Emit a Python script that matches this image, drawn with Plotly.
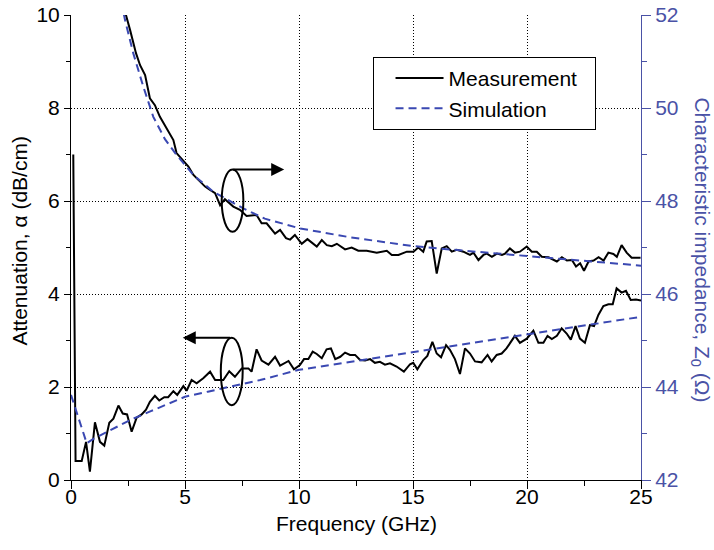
import plotly.graph_objects as go

# ---------------- data ----------------
# Measured attenuation (dB/cm) vs frequency (GHz)
meas_att_f = [0.10, 0.20, 0.47, 0.66, 0.83, 1.05, 1.27, 1.46, 1.68, 1.86, 2.08, 2.27, 2.46, 2.66, 2.88,
              3.10, 3.29, 3.46, 3.68, 3.87, 4.09, 4.26, 4.49, 4.66, 4.93, 5.07, 5.29, 5.51, 5.80, 6.10,
              6.32, 6.68, 6.94, 7.19, 7.49, 7.78, 7.92, 8.14, 8.36, 8.66, 8.95, 9.17, 9.54, 9.78, 10.04,
              10.22, 10.41, 10.60, 10.78, 11.00, 11.21, 11.40, 11.59, 11.81, 12.02, 12.24, 12.46, 12.68,
              12.90, 13.12, 13.33, 13.55, 13.77, 13.99, 14.28, 14.60, 14.87, 15.01, 15.19, 15.45, 15.63,
              15.85, 16.04, 16.23, 16.45, 16.62, 16.84, 17.06, 17.28, 17.50, 17.72, 18.01, 18.27, 18.45,
              18.67, 18.89, 19.10, 19.25, 19.47, 19.69, 19.99, 20.28, 20.50, 20.72, 20.90, 21.09, 21.31,
              21.52, 21.74, 21.92, 22.13, 22.32, 22.54, 22.76, 22.94, 23.13, 23.35, 23.57, 23.76, 23.93,
              24.15, 24.34, 24.55, 24.78, 25.00]
meas_att = [7.00, 0.41, 0.41, 0.82, 0.18, 1.24, 0.82, 0.74, 1.23, 1.32, 1.60, 1.43, 1.41, 1.04, 1.34,
            1.41, 1.51, 1.68, 1.81, 1.71, 1.78, 1.78, 1.91, 1.83, 2.02, 1.92, 2.15, 2.08, 2.19, 2.33,
            2.15, 2.15, 2.34, 2.22, 2.40, 2.40, 2.33, 2.81, 2.57, 2.48, 2.65, 2.46, 2.56, 2.38, 2.47,
            2.60, 2.60, 2.76, 2.71, 2.62, 2.81, 2.83, 2.60, 2.65, 2.74, 2.69, 2.69, 2.58,
            2.57, 2.60, 2.52, 2.54, 2.48, 2.51, 2.44, 2.33, 2.49, 2.52, 2.38, 2.58, 2.67,
            2.97, 2.72, 2.64, 2.90, 2.80, 2.60, 2.28, 2.83, 2.72, 2.55, 2.53, 2.69, 2.55,
            2.69, 2.72, 2.83, 2.94, 3.10, 2.95, 3.04, 3.21, 2.95, 2.95, 3.10, 3.03, 3.10,
            3.26, 3.15, 3.02, 3.31, 3.04, 2.95, 3.33, 3.31, 3.55, 3.74, 3.78, 3.78, 4.12,
            4.03, 4.07, 3.87, 3.88, 3.86]

# Simulated attenuation (dB/cm)
sim_att_f = [0.0, 0.69, 1.0, 1.5, 2.0, 2.6, 3.5, 4.0, 5.0, 6.0, 7.0, 8.3, 10.0, 12.5, 15.0, 17.5, 20.0, 22.5, 25.0]
sim_att = [1.83, 0.79, 0.89, 1.01, 1.13, 1.29, 1.48, 1.58, 1.79, 1.90, 2.01, 2.15, 2.37, 2.56, 2.74, 2.93, 3.12, 3.31, 3.51]

# Measured characteristic impedance (ohm)
meas_z_f = [2.30, 2.41, 2.59, 2.85, 3.03, 3.25, 3.46, 3.68, 3.90, 4.20, 4.49, 4.63, 4.93, 5.15, 5.37,
            5.66, 5.88, 6.10, 6.32, 6.54, 6.75, 7.12, 7.41, 7.70, 8.14, 8.36, 8.58, 8.95, 9.17, 9.43,
            9.61, 9.82, 10.12, 10.37, 10.78, 11.00, 11.22, 11.44, 11.66, 12.02, 12.31, 12.60, 12.97,
            13.41, 13.85, 14.07, 14.36, 14.73, 15.02, 15.23, 15.45, 15.60, 15.82, 16.04, 16.26, 16.48,
            16.70, 16.92, 17.21, 17.50, 17.65, 17.87, 18.09, 18.24, 18.46, 18.68, 18.90, 19.04, 19.25,
            19.47, 19.69, 19.99, 20.21, 20.43, 20.65, 20.94, 21.16, 21.31, 21.53, 21.75, 21.97, 22.15,
            22.33, 22.50, 22.70, 22.92, 23.14, 23.36, 23.57, 23.79, 23.94, 24.15, 24.37, 24.59, 24.98]
meas_z = [52.30, 52.00, 51.68, 51.18, 50.92, 50.71, 50.21, 50.06, 49.81, 49.56, 49.31, 49.03, 48.85, 48.74, 48.56,
          48.42, 48.31, 48.24, 48.17, 47.91, 48.04, 47.88, 47.81, 47.68, 47.70, 47.52, 47.52, 47.30, 47.38, 47.20,
          47.17, 47.27, 47.08, 47.18, 47.02, 47.16, 47.05, 47.03, 47.08, 46.96, 47.00, 46.93, 46.93,
          46.89, 46.93, 46.84, 46.84, 46.91, 46.91, 47.00, 46.91, 47.13, 47.14, 46.44, 46.98, 47.03,
          46.91, 46.95, 46.91, 46.84, 46.89, 46.73, 46.84, 46.87, 46.80, 46.87, 46.84, 46.87, 46.98,
          46.89, 46.91, 47.02, 46.91, 46.91, 46.80, 46.79, 46.73, 46.70, 46.79, 46.72, 46.73, 46.59,
          46.66, 46.50, 46.70, 46.72, 46.79, 46.72, 46.89, 46.86, 46.80, 47.05, 46.89, 46.78, 46.78]

# Simulated characteristic impedance (ohm)
sim_z_f = [2.20, 2.37, 2.73, 3.17, 3.61, 4.12, 4.63, 5.37, 6.24, 7.56, 8.50, 10.04, 12.24, 15.0, 17.5, 20.0, 22.5, 25.0]
sim_z = [52.30, 51.89, 51.18, 50.46, 49.81, 49.33, 48.99, 48.56, 48.20, 47.84, 47.62, 47.41, 47.22, 47.03, 46.92, 46.82, 46.71, 46.61]

x_ticks = [0, 5, 10, 15, 20, 25]
y_ticks = [0, 2, 4, 6, 8, 10]
y2_ticks = [42, 44, 46, 48, 50, 52]

BLUE_AX = "#4a52a6"
BLUE_LN = "#3a48b2"
FONT = "Liberation Sans, Arial, Helvetica, sans-serif"
NB = "\u00a0"

fig = go.Figure()
fig.add_trace(go.Scatter(x=meas_att_f, y=meas_att, mode="lines", name="Measurement" + NB * 2,
                         line=dict(color="black", width=2), yaxis="y"))
fig.add_trace(go.Scatter(x=sim_att_f, y=sim_att, mode="lines", name="Simulation",
                         line=dict(color=BLUE_LN, width=2, dash="8px,5px"), yaxis="y"))
fig.add_trace(go.Scatter(x=meas_z_f, y=meas_z, mode="lines", name="Measurement", showlegend=False,
                         line=dict(color="black", width=2), yaxis="y2"))
fig.add_trace(go.Scatter(x=sim_z_f, y=sim_z, mode="lines", name="Simulation", showlegend=False,
                         line=dict(color=BLUE_LN, width=2, dash="8px,5px"), yaxis="y2"))

# ellipses + arrows (in data coordinates of the left axis)
fig.add_shape(type="circle", xref="x", yref="y", x0=6.61, x1=7.56, y0=5.34, y1=6.68,
              line=dict(color="black", width=2))
fig.add_shape(type="circle", xref="x", yref="y", x0=6.57, x1=7.53, y0=1.61, y1=3.06,
              line=dict(color="black", width=2))
fig.add_annotation(x=9.35, y=6.68, ax=7.05, ay=6.68, xref="x", yref="y", axref="x", ayref="y",
                   text="", showarrow=True, arrowhead=2, arrowsize=1.3, arrowwidth=2, arrowcolor="black")
fig.add_annotation(x=4.9, y=3.06, ax=7.05, ay=3.06, xref="x", yref="y", axref="x", ayref="y",
                   text="", showarrow=True, arrowhead=2, arrowsize=1.3, arrowwidth=2, arrowcolor="black")

# axis titles
fig.add_annotation(text="Attenuation, α (dB/cm)", xref="paper", yref="paper", x=-0.0895, y=0.515,
                   xanchor="center", yanchor="middle",
                   textangle=-90, showarrow=False, font=dict(size=21, color="black", family=FONT))
fig.add_annotation(text="Characteristic impedance, Z<sub>0</sub> (Ω)", xref="paper", yref="paper",
                   x=1.106, y=0.495, xanchor="center", yanchor="middle", textangle=90, showarrow=False,
                   font=dict(size=21, color=BLUE_AX, family=FONT))
fig.add_annotation(text="Frequency (GHz)", xref="paper", yref="paper", x=0.5, y=-0.093,
                   xanchor="center", yanchor="middle", showarrow=False,
                   font=dict(size=21, color="black", family=FONT))

fig.update_layout(
    width=714, height=550,
    margin=dict(l=71, r=73, t=15, b=70, autoexpand=False),
    paper_bgcolor="white", plot_bgcolor="white",
    font=dict(family=FONT, size=21, color="black"),
    showlegend=True,
    legend=dict(x=0.529, y=0.91, xanchor="left", yanchor="top", bgcolor="white",
                bordercolor="black", borderwidth=1, font=dict(size=21), itemwidth=48,
                indentation=17, tracegroupgap=0),
    xaxis=dict(range=[0, 25], tickvals=x_ticks, ticks="outside", ticklen=8, tickwidth=1,
               tickcolor="black", showline=True, linecolor="black", linewidth=1, automargin=False,
               ticklabelstandoff=-10,
               showgrid=True, gridcolor="black", gridwidth=1, griddash="1px,2px", zeroline=False,
               minor=dict(dtick=2.5, tick0=0, ticks="outside", ticklen=5, tickcolor="black", showgrid=False)),
    xaxis2=dict(range=[0, 25], overlaying="x", side="top", tickvals=x_ticks, ticks="inside", ticklen=8,
                tickcolor="black", showticklabels=False, showline=True, linecolor="black", linewidth=1,
                showgrid=False, zeroline=False, automargin=False,
                minor=dict(dtick=2.5, tick0=0, ticks="inside", ticklen=5, tickcolor="black", showgrid=False)),
    yaxis=dict(range=[0, 10], tickvals=y_ticks, ticks="outside", ticklen=6, tickwidth=1,
               tickcolor="black", showline=True, linecolor="black", linewidth=1, automargin=False,
               showgrid=True, gridcolor="black", gridwidth=1, griddash="1px,2px", zeroline=False,
               minor=dict(dtick=1, tick0=0, ticks="outside", ticklen=4, tickcolor="black", showgrid=False)),
    yaxis2=dict(range=[42, 52], overlaying="y", side="right", tickvals=y2_ticks, ticks="outside",
                ticklen=9, tickwidth=1, tickcolor=BLUE_AX, showline=True, linecolor=BLUE_AX, linewidth=1,
                showgrid=False, zeroline=False, automargin=False, tickfont=dict(color=BLUE_AX, size=21),
                minor=dict(dtick=1, tick0=42, ticks="outside", ticklen=5, tickcolor=BLUE_AX, showgrid=False)),
)

fig.write_html("out.html")
